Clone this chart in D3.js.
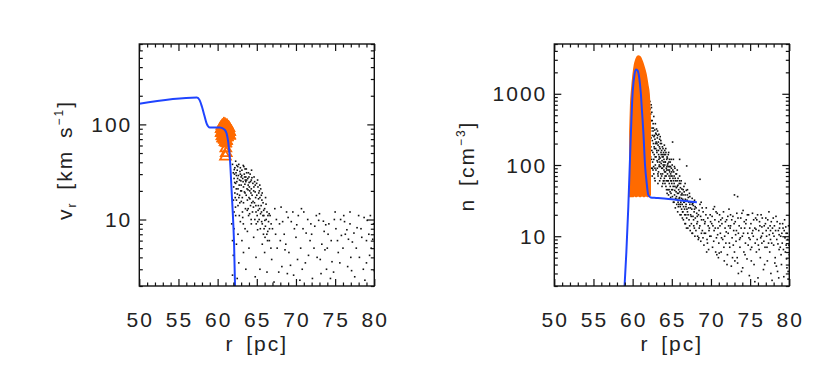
<!DOCTYPE html>
<html>
<head>
<meta charset="utf-8">
<script src="https://cdn.jsdelivr.net/npm/d3@7"></script>
<style>
  body { margin: 0; background: #fff; }
  text { font-family: "Liberation Sans", Arial, sans-serif; fill: #222; }
</style>
</head>
<body>
<svg id="chart" width="830" height="382"></svg>
<script>
// x axis (both panels)
var rTicks = [50, 55, 60, 65, 70, 75, 80];
var rMinor = [51,52,53,54,56,57,58,59,61,62,63,64,66,67,68,69,71,72,73,74,76,77,78,79];

// left panel: radial velocity
var vTicks = [10, 100];
var vMinor = [2,3,4,5,6,7,8,9,20,30,40,50,60,70,80,90,200,300,400,500,600,700];
var vLine = [[50,165],[57.35,192],[57.7,180],[58.0,153],[58.3,125],[58.6,102],[59.0,93],[60.3,93],[60.9,88],
  [61.15,80],[61.35,65],[61.58,42],[61.8,19],[62.0,9],[62.1,5.5],[62.22,2]];
// filled triangles (dense cluster) and the few open ones below it
var vOrange = [[60.4,95],[60.6,100],[60.8,104],[61.0,102],[61.2,100],[61.4,96],[61.6,90],[60.3,88],[60.5,90],
  [60.7,93],[60.9,95],[61.1,94],[61.3,92],[61.5,86],[61.7,82],[60.3,80],[60.5,82],[60.7,85],[60.9,88],[61.1,86],
  [61.3,84],[61.5,78],[61.7,75],[60.4,74],[60.6,76],[60.8,79],[61.0,80],[61.2,77],[61.4,72],[60.5,70],[60.7,68],
  [60.9,72],[61.1,70],[61.3,66],[60.8,64],[61.0,63],[61.2,62]];
var vOrangeOpen = [[61.05,56],[61.1,50],[61.0,46]];
var vDots = [
  [61.9,38],[62.0,31],[62.1,27],[62.2,35],[62.3,24],[62.4,29],[62.5,33],[62.6,21],[62.7,38],[62.8,26],[62.9,30],
  [63.0,23],[62.2,19],[62.4,16],[62.6,14],[62.1,12],[62.8,18],[62.3,41],[62.9,35],[63.0,28],[62.05,22],[62.35,31],
  [62.55,27],[62.75,23],[62.95,20],[62.15,30],[62.45,25],[62.65,29],[62.85,32],[62.25,17],
  [63.1,33],[63.2,27],[63.3,22],[63.4,30],[63.5,19],[63.6,25],[63.7,31],[63.8,16],[63.9,23],[64.0,28],[64.1,20],
  [64.2,14],[64.3,26],[64.4,18],[64.5,24],[63.15,17],[63.35,36],[63.55,13],[63.75,21],[63.95,11],[64.15,30],
  [64.35,15],[63.25,25],[63.45,28],[63.65,18],[63.85,27],[64.05,22],[64.25,19],[64.45,12],[63.05,20],[63.5,34],
  [64.0,17],[64.3,21],[63.9,13],[63.6,28],[63.3,15],[64.2,25],
  [64.6,20],[64.7,15],[64.8,23],[64.9,12],[65.0,18],[65.1,26],[65.2,14],[65.3,10],[65.4,17],[65.5,21],[65.6,12],
  [65.7,9],[65.8,15],[65.9,11],[66.0,13],[66.1,8.5],[66.2,10],[66.3,12],[66.4,7.5],[66.5,9.5],[64.65,28],[64.85,17],
  [65.05,11],[65.25,19],[65.45,8],[65.65,16],[65.85,7],[64.75,10],[65.15,22],[65.55,14],[66.05,6.5],[65.35,13],
  [62.12,33.5],[62.38,21],[62.57,36],[62.83,15],[63.08,29],[63.27,37],[63.48,23.5],[63.71,26],[63.93,31],[64.12,16.5],
  [64.38,27.5],[64.57,13.5],[64.79,19.5],[64.98,24],[65.22,16.5],[65.48,11.5],[65.69,19],[65.93,8],[66.18,14.5],
  [66.42,11],[62.18,24.5],[62.44,37],[62.71,17],[62.97,25.5],[63.17,12],[63.42,19.5],[63.66,34],[63.88,20.5],
  [64.08,11.5],[64.33,33],[64.52,15.5],[64.72,25],[64.93,9],[65.17,12.5],[65.38,23],[65.62,9.5],[65.88,12.5],
  [66.12,17],[66.37,6],[66.62,8],[62.02,16],[62.28,13.5],[62.52,18.5],[62.77,11],[63.02,15.5],[63.28,9],[63.53,26],
  [63.78,12.5],[64.02,24.5],[64.28,10],[64.63,22],[64.88,14],[65.12,9.5],[65.33,20],[65.58,18],[65.78,11],
  [66.03,9.8],[66.28,7],[66.58,11.5],[66.83,9],
  [61.8,9],[61.9,6],[62.0,4.2],[61.9,2.6],[62.1,8],[62.3,11],[62.4,5.5],[62.6,7],[62.7,3.5],[62.9,9.5],[63.1,6],
  [63.3,4.5],[63.5,8],[62.5,2.4],[63.2,10.5],[63.8,7.5],[64.0,5],[64.3,9],[64.6,6.5],[64.9,4],[65.1,7.8],[65.4,3],
  [65.7,5.5],[66.0,4.5],[66.3,2.8],[66.6,6],[66.9,3.8],[63.6,3],[64.8,2.5],
  [66.7,11],[67.0,8],[67.3,13],[67.6,5],[67.9,9],[68.2,3.2],[68.5,7],[68.8,12],[69.1,4.5],[69.4,9.5],[69.7,2.6],
  [70.0,6.5],[70.3,11],[70.6,5],[70.9,8],[71.2,3.5],[71.5,10],[71.8,6],[72.1,2.4],[72.4,8.5],[72.7,4],[73.0,11.5],
  [73.3,5.5],[73.6,7.5],[73.9,3],[74.2,9],[74.5,6],[74.8,2.8],[75.1,8],[75.4,4.5],[75.7,10],[76.0,5],[76.3,7],
  [76.6,3.2],[76.9,9],[77.2,5.8],[77.5,2.5],[77.8,8.2],[78.1,4],[78.4,6.5],[78.7,10.5],[79.0,3.5],[79.3,7],[79.6,5],
  [79.9,9],[67.2,2.2],[68.0,6],[69.0,10.5],[70.2,3.8],[71.0,12],[72.0,7],[73.2,2.7],[74.0,5],[75.0,12],[76.2,9.5],
  [77.0,4],[78.0,11],[79.0,6],[80.0,2.9],[68.6,4.8],[69.8,8],[71.6,4.2],[72.9,9.8],[74.6,3.6],[75.8,6.8],[77.4,7.2],
  [78.8,2.3],[79.5,11],[70.7,13],[73.8,8.8],[76.7,6.2],[68.9,2.7],[66.8,5],[67.5,10],[70.5,2.3],[68.1,13.5],
  [67.4,7],[67.8,2.8],[68.3,9.5],[68.7,5.5],[69.3,3.3],[69.6,12],[70.1,8.8],[70.8,3],[71.3,7.2],[71.9,9],[72.3,5],
  [72.6,11],[73.1,3.8],[73.5,9.6],[74.1,7],[74.4,2.4],[74.9,10],[75.3,6],[75.6,3.5],[76.1,11],[76.5,7.8],[77.1,2.9],
  [77.7,5],[78.3,8],[78.6,3],[79.1,9.8],[79.4,4.2],[79.8,6.2],[73.7,4.8],[76.9,12]];

// right panel: number density
var nTicks = [10, 100, 1000];
var nMinor = [2,3,4,5,6,7,8,9,20,30,40,50,60,70,80,90,200,300,400,500,600,700,800,900,2000,3000,4000,5000];
var nLine = [[58.97,2],[59.2,6],[59.45,26],[59.75,230],[60.0,1050],[60.25,1900],[60.45,2200],[60.65,2100],
  [60.85,1650],[61.05,1000],[61.2,560],[61.37,290],[61.58,100],[61.8,55],[62.0,38],[62.3,35],[63,34.5],[64,33.8],
  [65,33],[66,32],[67,31],[68.2,30]];
// orange cloud outline: r, lower edge, upper edge
var nOrange = [[59.65,36,300],[59.75,36,700],[59.9,36,1200],[60.05,36,1800],[60.25,37,2600],[60.45,36,3100],
  [60.7,37,3400],[60.95,36,3300],[61.2,37,2900],[61.45,36,2400],[61.7,37,1900],[61.95,36,1300],[62.1,37,1000],
  [62.2,38,600],[62.25,38,420]];
var nDots = [
  [62.2,780],[62.3,520],[62.25,350],[62.4,640],[62.35,240],[62.5,420],[62.45,160],[62.6,300],[62.55,110],[62.7,480],
  [62.65,200],[62.8,260],[62.75,140],[62.9,380],[62.85,90],[63.0,210],[62.95,170],[62.3,130],[62.4,90],[62.5,70],
  [62.6,85],[62.7,120],[62.8,65],[62.9,100],[63.0,130],[62.2,200],[62.3,300],[62.45,550],[62.55,260],[62.65,330],
  [62.75,180],[62.85,230],[62.95,280],[62.25,420],[62.7,75],
  [63.05,320],[63.1,150],[63.15,240],[63.2,110],[63.25,190],[63.3,80],[63.35,270],[63.4,130],[63.45,60],[63.5,170],
  [63.55,95],[63.6,220],[63.65,140],[63.7,70],[63.75,115],[63.8,180],[63.85,55],[63.9,100],[63.95,150],[64.0,85],
  [63.1,200],[63.2,260],[63.3,160],[63.4,100],[63.5,125],[63.6,75],[63.7,160],[63.8,90],[63.9,130],[64.0,60],
  [63.15,90],[63.35,120],[63.55,200],[63.75,50],[63.95,110],[63.45,230],[63.65,105],[63.85,140],[63.25,70],[64.0,120],
  [62.22,610],[62.28,260],[62.33,180],[62.38,420],[62.42,120],[62.48,330],[62.52,220],[62.58,150],[62.62,380],
  [62.68,95],[62.72,250],[62.78,170],[62.82,310],[62.88,130],[62.92,200],[62.98,85],[63.02,270],[63.08,160],
  [63.12,115],[63.18,300],[63.22,75],[63.28,210],[63.32,140],[63.38,95],[63.42,180],[63.48,110],[63.52,250],
  [63.58,65],[63.62,150],[63.68,200],[63.72,90],[63.78,130],[63.82,75],[63.88,170],[63.92,60],[63.98,95],
  [62.36,700],[62.52,90],[62.87,60],[63.23,55],
  [64.05,190],[64.1,100],[64.15,70],[64.2,140],[64.25,50],[64.3,90],[64.35,120],[64.4,40],[64.45,75],[64.5,105],
  [64.55,60],[64.6,150],[64.65,45],[64.7,85],[64.75,65],[64.8,110],[64.85,35],[64.9,70],[64.95,90],[65.0,55],
  [64.1,160],[64.2,80],[64.3,60],[64.4,130],[64.5,45],[64.6,95],[64.7,120],[64.8,50],[64.9,40],[65.0,80],
  [64.15,110],[64.35,85],[64.55,140],[64.75,95],[64.95,60],[64.25,150],[64.45,100],[64.65,70],[64.85,75],[64.05,65],
  [64.03,140],[64.08,80],[64.13,55],[64.18,110],[64.23,170],[64.28,70],[64.33,45],[64.38,95],[64.43,125],[64.48,60],
  [64.53,85],[64.58,38],[64.63,110],[64.68,55],[64.73,80],[64.78,42],[64.83,95],[64.88,60],[64.93,120],[64.98,45],
  [65.03,70],[65.08,36],[65.13,85],[65.18,50],[65.23,60],[65.28,30],[65.33,95],[65.38,44],[65.43,65],[65.48,34],
  [65.53,75],[65.58,48],[65.63,28],[65.68,60],[65.73,40],[65.78,52],[65.83,26],[65.88,45],[65.93,34],[65.98,60],
  [65.05,100],[65.1,45],[65.15,65],[65.2,30],[65.25,80],[65.3,55],[65.35,38],[65.4,90],[65.45,25],[65.5,60],
  [65.55,42],[65.6,75],[65.65,33],[65.7,50],[65.75,22],[65.8,65],[65.85,40],[65.9,28],[65.95,55],[66.0,35],
  [66.05,20],[66.1,48],[66.15,30],[66.2,60],[66.25,24],[66.3,40],[66.35,18],[66.4,33],[66.45,45],[66.5,26],
  [65.2,120],[65.4,50],[65.6,36],[65.8,30],[66.0,70],[66.2,38],[66.4,22],[65.3,70],[65.7,85],[66.1,28],
  [66.03,42],[66.08,26],[66.13,55],[66.18,20],[66.23,34],[66.28,46],[66.33,28],[66.38,22],[66.43,38],[66.48,17],
  [66.53,30],[66.58,42],[66.63,24],[66.68,15],[66.73,33],[66.78,20],[66.83,28],[66.88,13],[66.93,24],[66.98,38],
  [67.08,20],[67.18,30],[67.28,14],[67.38,25],[67.48,19],[67.58,11],[67.68,29],[67.78,17],[67.88,13],[67.98,26],
  [68.08,12],[68.18,21],[68.28,16],[68.38,9],[68.48,23],[68.58,14],[68.68,19],[68.78,11],[68.88,25],[68.98,9.5],
  [66.55,50],[66.6,30],[66.65,20],[66.7,38],[66.75,15],[66.8,26],[66.85,44],[66.9,18],[66.95,32],[67.0,22],
  [67.05,13],[67.1,35],[67.15,25],[67.2,17],[67.25,40],[67.3,28],[67.35,12],[67.4,20],[67.45,30],[67.5,15],
  [67.55,24],[67.6,34],[67.65,11],[67.7,19],[67.75,27],[67.8,14],[67.85,22],[67.9,32],[67.95,10],[68.0,18],
  [66.7,55],[67.0,45],[67.3,36],[67.6,28],[67.9,24],
  [68.1,25],[68.2,15],[68.3,10],[68.4,20],[68.5,13],[68.6,28],[68.7,8.5],[68.8,17],[68.9,12],[69.0,22],
  [69.1,7.5],[69.2,15],[69.3,11],[69.4,25],[69.5,9],[69.6,18],[69.7,6.5],[69.8,13],[69.9,20],[70.0,10],
  [70.1,15],[70.2,7],[70.3,24],[70.4,12],[70.5,17],[70.6,6],[70.7,9.5],[70.8,21],[70.9,13],[71.0,8],
  [68.25,19],[68.75,30],[69.25,16],[69.75,12],[70.25,14],[70.75,5.5],[68.45,9.5],[69.45,6],[70.45,26],[71.0,16],
  [69.05,17],[69.15,11],[69.35,20],[69.55,8],[69.65,14],[69.85,10],[69.95,16],[70.15,19],[70.35,8.5],[70.55,13],
  [70.65,22],[70.85,10.5],[70.95,5],[71.15,14],[71.35,9.5],[71.45,18],[71.65,7],[71.85,16],[71.95,11.5],[72.15,19],
  [71.1,20],[71.2,11],[71.3,6],[71.4,15],[71.5,9],[71.6,22],[71.7,4.5],[71.8,13],[71.9,8],[72.0,17],
  [72.1,5.5],[72.2,11],[72.3,24],[72.4,7],[72.5,14],[72.6,3.8],[72.7,9.5],[72.8,19],[72.9,12],[73.0,6],
  [73.1,16],[73.2,8.5],[73.3,21],[73.4,4.2],[73.5,11],[73.6,14],[73.7,7],[73.8,18],[73.9,3.2],[74.0,10],
  [74.1,23],[74.2,6],[74.3,13],[74.4,8],[74.5,17],[74.6,4.8],[74.7,11],[74.8,20],[74.9,2.8],[75.0,9],
  [71.25,17],[71.75,10],[72.25,14],[72.75,5],[73.25,12],[73.75,9.5],[74.25,16],[74.75,7.5],[72.5,20],[73.5,3],
  [72.35,8],[72.45,13],[72.65,17],[72.85,7.5],[72.95,15],[73.15,10.5],[73.35,5],[73.45,18],[73.65,9],[73.85,13],
  [73.95,21],[74.15,11],[74.35,5.5],[74.45,15],[74.65,20],[74.85,9.5],[74.95,13],[75.15,4.5],[75.25,11],[75.45,17],
  [75.1,15],[75.2,7],[75.3,21],[75.4,10],[75.5,4],[75.6,13],[75.7,18],[75.8,6],[75.9,9],[76.0,2.6],
  [76.1,12],[76.2,16],[76.3,5],[76.4,20],[76.5,8],[76.6,11],[76.7,3.4],[76.8,14],[76.9,7],[77.0,18],
  [77.1,10],[77.2,4.5],[77.3,13],[77.4,22],[77.5,6],[77.6,9],[77.7,16],[77.8,2.4],[77.9,11],[78.0,7.5],
  [78.1,14],[78.2,5],[78.3,19],[78.4,9],[78.5,3.2],[78.6,12],[78.7,6.5],[78.8,15],[78.9,10],[79.0,4],
  [79.1,8],[79.2,13],[79.3,2.7],[79.4,17],[79.5,6],[79.6,11],[79.7,3.6],[79.8,9],[79.9,14],[80.0,5.5],
  [75.65,8],[75.75,12.5],[75.95,20],[76.15,6.5],[76.25,14],[76.45,10],[76.55,18],[76.75,8.5],[76.95,15],[77.05,12],
  [77.15,7],[77.25,17],[77.45,10.5],[77.55,14],[77.75,8],[77.95,18],[78.05,10],[78.15,4.2],[78.25,12],[78.45,16],
  [78.55,7.8],[78.75,13],[78.95,5.5],[79.05,11],[79.15,15],[79.25,6.5],[79.45,9.5],[79.55,13.5],[79.65,4.8],
  [79.75,11],[79.95,7.5],[76.05,7.5],[77.65,3],[78.65,2.6],[79.85,3.2],[75.05,6.5],[74.05,3.6],[73.05,4.5],
  [72.05,4],[71.05,5.8],
  [75.35,12],[75.85,17],[76.35,9.5],[76.85,4],[77.35,8],[77.85,13],[78.35,3.8],[78.85,7],[79.35,12],[79.85,2.5],
  [75.6,2.3],[76.5,13.5],[77.6,12],[78.7,10.5],[79.6,7.5],
  [65.1,210],[66.0,120],[66.9,97],[68.6,63],[73.0,38],[73.4,36]];

var svg = d3.select("#chart");
svg.append("rect").attr("width", 830).attr("height", 382).attr("fill", "#fff");

var plotTop = 44, plotBottom = 286;
var blue = "#1f44ff", orange = "#ff6a00";

// Draws one panel: frame, inward ticks on all four sides, tick labels, data
function drawPanel(left, right, yDomain, yTicks, yMinor, dots, line, labelX, labelY, label){
	var x = d3.scaleLinear().domain([50, 80]).range([left, right]);
	var y = d3.scaleLog().domain(yDomain).range([plotBottom, plotTop]);
	var g = svg.append("g");

	var clip = "clip" + Math.round(left);
	g.append("clipPath").attr("id", clip).append("rect")
		.attr("x", left).attr("y", plotTop).attr("width", right - left).attr("height", plotBottom - plotTop);
	var plot = g.append("g").attr("clip-path", "url(#" + clip + ")");

	plot.selectAll(".dot").data(dots).enter().append("rect")
		.attr("x", function(d){ return x(d[0]) - 0.8; })
		.attr("y", function(d){ return y(d[1]) - 0.8; })
		.attr("width", 1.6).attr("height", 1.6).attr("fill", "#111");

	var orangeLayer = plot.append("g");

	plot.append("path").datum(line)
		.attr("d", d3.line().x(function(d){ return x(d[0]); }).y(function(d){ return y(d[1]); }).curve(d3.curveMonotoneX))
		.attr("fill", "none").attr("stroke", blue).attr("stroke-width", 2);

	// ticks
	var axes = [
		[d3.axisBottom(x), "translate(0," + plotBottom + ")", rTicks, rMinor],
		[d3.axisTop(x), "translate(0," + plotTop + ")", rTicks, rMinor],
		[d3.axisLeft(y), "translate(" + left + ",0)", yTicks, yMinor],
		[d3.axisRight(y), "translate(" + right + ",0)", yTicks, yMinor]
	];
	axes.forEach(function(a){
		var ax = a[0];
		g.append("g").attr("transform", a[1])
			.call(ax.tickValues(a[2]).tickSizeInner(-7).tickSizeOuter(0).tickFormat(""))
			.call(function(s){ s.select(".domain").remove(); s.selectAll("line").attr("stroke", "#111").attr("stroke-width", 1.2); });
		g.append("g").attr("transform", a[1])
			.call(ax.tickValues(a[3]).tickSizeInner(-3.5).tickSizeOuter(0).tickFormat(""))
			.call(function(s){ s.select(".domain").remove(); s.selectAll("line").attr("stroke", "#111").attr("stroke-width", 1.2); });
	});

	g.append("rect").attr("x", left).attr("y", plotTop).attr("width", right - left).attr("height", plotBottom - plotTop)
		.attr("fill", "none").attr("stroke", "#111").attr("stroke-width", 1.4);

	g.selectAll(".xl").data(rTicks).enter().append("text")
		.attr("x", function(d){ return x(d) + 1; }).attr("y", 327)
		.attr("text-anchor", "middle").style("font-size", "21px").style("letter-spacing", "2px")
		.text(function(d){ return d; });
	g.selectAll(".yl").data(yTicks).enter().append("text")
		.attr("x", left - 7).attr("y", function(d){ return y(d) + 7.5; })
		.attr("text-anchor", "end").style("font-size", "21px").style("letter-spacing", "2px")
		.text(function(d){ return d; });

	g.append("text").attr("x", (left + right) / 2).attr("y", 351)
		.attr("text-anchor", "middle").style("font-size", "21px").style("letter-spacing", "2px").style("word-spacing", "4px")
		.text("r [pc]");

	var yl = g.append("text").attr("transform", "translate(" + labelX + "," + labelY + ") rotate(-90)")
		.attr("text-anchor", "middle").style("font-size", "21px").style("letter-spacing", "2px").style("word-spacing", "4px");
	label(yl);

	return {x: x, y: y, layer: orangeLayer};
}

var pv = drawPanel(139.3, 374.3, [2, 700], vTicks, vMinor, vDots, vLine, 72, 160, function(t){
	t.append("tspan").text("v");
	t.append("tspan").attr("dy", 4).style("font-size", "12px").text("r");
	t.append("tspan").attr("dy", -4).text(" [km s");
	t.append("tspan").attr("dy", -9).style("font-size", "12px").text("\u22121");
	t.append("tspan").attr("dy", 9).text("]");
});
pv.layer.selectAll(".tri").data(vOrange).enter().append("path")
	.attr("d", d3.symbol().type(d3.symbolTriangle).size(45))
	.attr("transform", function(d){ return "translate(" + pv.x(d[0]) + "," + pv.y(d[1]) + ")"; })
	.attr("fill", orange).attr("stroke", orange).attr("stroke-width", 1);
pv.layer.selectAll(".open").data(vOrangeOpen).enter().append("path")
	.attr("d", d3.symbol().type(d3.symbolTriangle).size(50))
	.attr("transform", function(d){ return "translate(" + pv.x(d[0]) + "," + pv.y(d[1]) + ")"; })
	.attr("fill", "none").attr("stroke", orange).attr("stroke-width", 1.8);

var pn = drawPanel(554.3, 789.3, [2, 5000], nTicks, nMinor, nDots, nLine, 474, 166, function(t){
	t.append("tspan").text("n [cm");
	t.append("tspan").attr("dy", -9).style("font-size", "12px").text("\u22123");
	t.append("tspan").attr("dy", 9).text("]");
});
pn.layer.append("path").datum(nOrange)
	.attr("d", d3.area().x(function(d){ return pn.x(d[0]); })
		.y0(function(d){ return pn.y(d[1]); }).y1(function(d){ return pn.y(d[2]); }).curve(d3.curveMonotoneX))
	.attr("fill", orange).attr("stroke", orange).attr("stroke-width", 1.5);
</script>
</body>
</html>
